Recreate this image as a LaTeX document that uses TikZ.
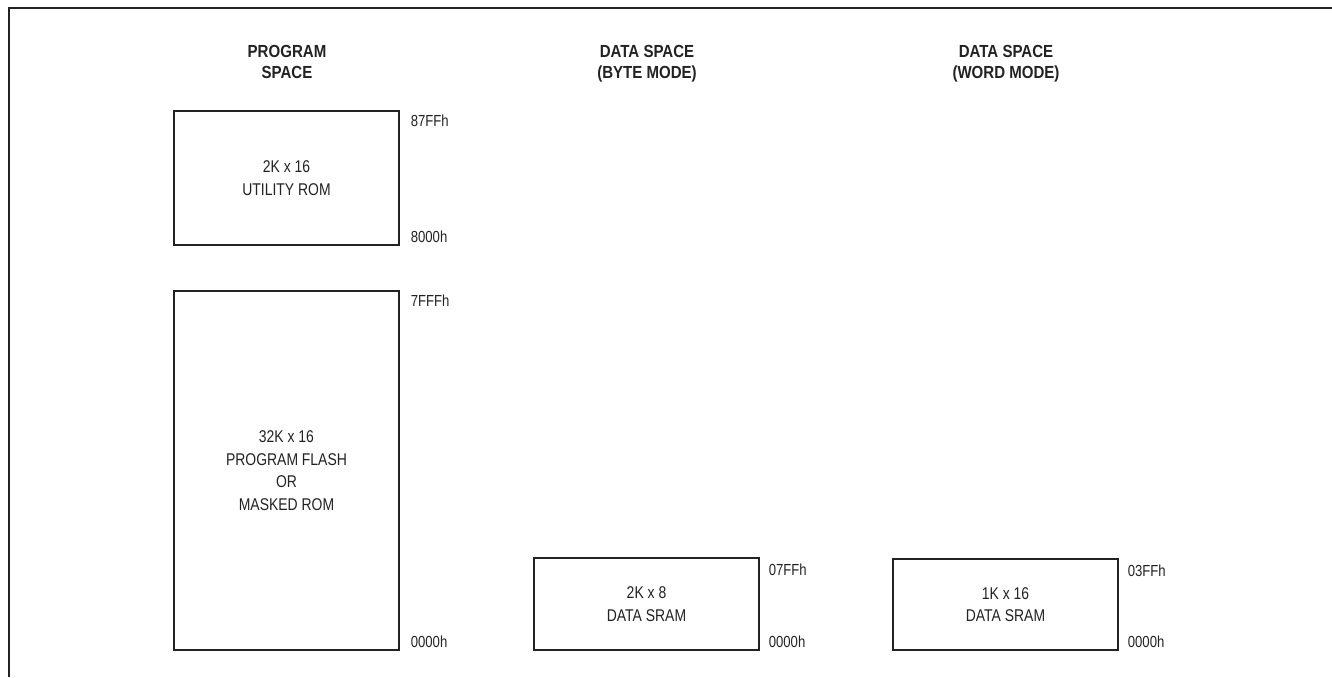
\documentclass[tikz,border=0pt]{standalone}
\usepackage{fontspec}
\setmainfont{Liberation Sans}[FakeStretch=0.82]
\newfontfamily\hdrfont{Liberation Sans}[FakeStretch=0.86]
\definecolor{ink}{HTML}{222222}
\begin{document}
\begin{tikzpicture}[x=1pt,y=-1pt,
  memb/.style={draw=ink, line width=1.3pt, inner sep=0pt, align=center,
    font=\fontsize{17}{22.5}\selectfont, text=ink},
  hdr/.style={align=center, font=\hdrfont\bfseries\fontsize{17.5}{21}\selectfont, text=ink, inner sep=0pt},
  addr/.style={font=\fontsize{16}{18}\selectfont, text=ink, inner sep=0pt}]
\useasboundingbox (0,0) rectangle (1332,677);
\draw[ink, line width=2pt] (8.5,677) -- (8.5,8.5) -- (1332,8.5);

% headers
\node[hdr, anchor=base] (h1a) at (287,57) {PROGRAM};
\node[hdr, anchor=base] (h1b) at (287,78) {SPACE};
\node[hdr, anchor=base] (h2a) at (647,57) {DATA SPACE};
\node[hdr, anchor=base] (h2b) at (647,78) {(BYTE MODE)};
\node[hdr, anchor=base] (h3a) at (1006,57) {DATA SPACE};
\node[hdr, anchor=base] (h3b) at (1006,78) {(WORD MODE)};

% boxes
\node[memb, minimum width=225pt, minimum height=134pt] (urom) at (286.5,178) {2K x 16\\UTILITY ROM};
\node[memb, minimum width=225pt, minimum height=359pt] (flash) at (286.5,470.5) {32K x 16\\PROGRAM FLASH\\OR\\MASKED ROM};
\node[memb, minimum width=225pt, minimum height=92pt] (bsram) at (646.5,604) {2K x 8\\DATA SRAM};
\node[memb, minimum width=225pt, minimum height=91pt] (wsram) at (1005.5,604.5) {1K x 16\\DATA SRAM};

% address labels
\node[addr, anchor=base west] (a1) at ([xshift=11pt, yshift=-16pt]urom.north east) {87FFh};
\node[addr, anchor=base west] (a2) at ([xshift=11pt, yshift=3pt]urom.south east) {8000h};
\node[addr, anchor=base west] (a3) at ([xshift=11pt, yshift=-16pt]flash.north east) {7FFFh};
\node[addr, anchor=base west] (a4) at ([xshift=11pt, yshift=3pt]flash.south east) {0000h};
\node[addr, anchor=base west] (a5) at ([xshift=9pt, yshift=-18pt]bsram.north east) {07FFh};
\node[addr, anchor=base west] (a6) at ([xshift=9pt, yshift=3pt]bsram.south east) {0000h};
\node[addr, anchor=base west] (a7) at ([xshift=9pt, yshift=-18pt]wsram.north east) {03FFh};
\node[addr, anchor=base west] (a8) at ([xshift=9pt, yshift=3pt]wsram.south east) {0000h};
\end{tikzpicture}
\end{document}
